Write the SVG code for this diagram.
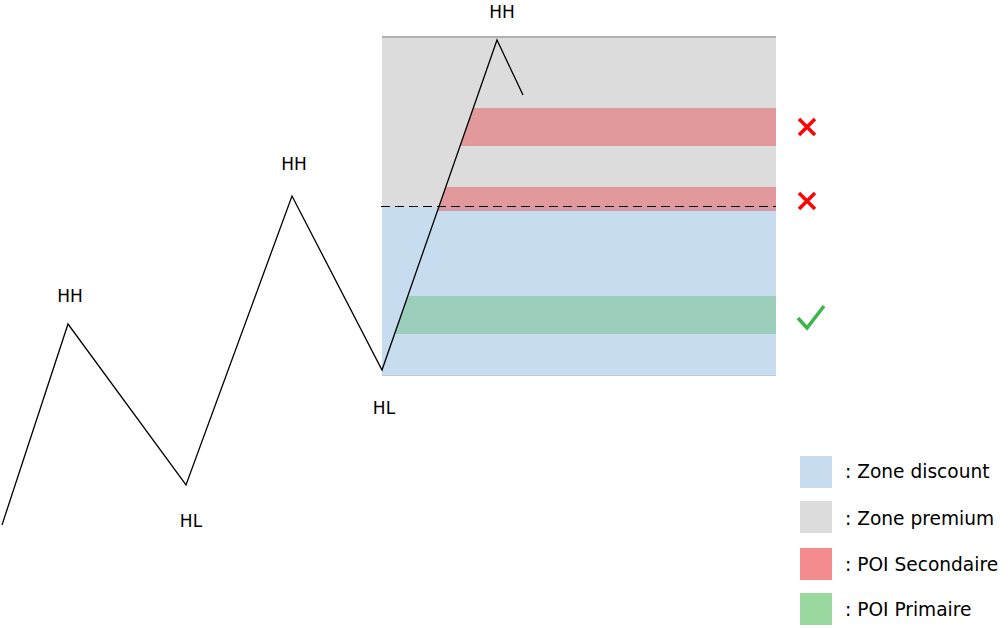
<svg xmlns="http://www.w3.org/2000/svg" width="1008" height="629" viewBox="0 0 1008 629">
<style>
text{font-family:"DejaVu Sans","Noto Sans",sans-serif;fill:#000;}
.lbl{font-size:17px;text-anchor:middle;}
.leg{font-size:18.6px;}
.poi2{fill:rgb(230,86,90);fill-opacity:0.5;}
.poi1{fill:rgb(108,192,132);fill-opacity:0.5;}
.x{stroke:#ff0000;stroke-width:3.5;fill:none;}
</style>
<rect width="1008" height="629" fill="#ffffff"/>
<g id="zone-premium">
<rect x="382" y="36" width="394" height="171" fill="#dcdcdc"/>
<line x1="382" y1="37" x2="776" y2="37" stroke="#b0b0b0" stroke-width="2"/>
</g>
<g id="zone-discount">
<rect x="382" y="207" width="394" height="169" fill="#c8dcf0"/>
<line x1="382" y1="375.5" x2="776" y2="375.5" stroke="#b4cce6" stroke-width="1"/>
</g>
<g id="poi-secondaire-1"><polygon class="poi2" points="473.6,108 776,108 776,146 460.3,146"/></g>
<g id="poi-secondaire-2"><polygon class="poi2" points="445.9,187 776,187 776,211 437.6,211"/></g>
<g id="poi-primaire"><polygon class="poi1" points="407.9,296 776,296 776,334 394.6,334"/></g>
<g id="connectors">
<line x1="381" y1="206.5" x2="776" y2="206.5" stroke="#000" stroke-width="1" stroke-dasharray="9 5"/>
<polyline points="2,525 68,324 186,485 292,196 382,370 497,40 523,95" fill="none" stroke="#000" stroke-width="1.3" stroke-linejoin="miter"/>
</g>
<g id="labels">
<text class="lbl" x="70" y="302">HH</text>
<text class="lbl" x="191" y="527">HL</text>
<text class="lbl" x="294" y="170">HH</text>
<text class="lbl" x="384" y="414">HL</text>
<text class="lbl" x="502" y="18">HH</text>
</g>
<g id="marks">
<path class="x" d="M799,119 L815,135 M815,119 L799,135"/>
<path class="x" d="M799,193 L815,209 M815,193 L799,209"/>
<path d="M798,318 L807,328 L824,306" fill="none" stroke="#3cb54a" stroke-width="3.5"/>
</g>
<g id="legend">
<rect x="800" y="456" width="32" height="32" fill="#c8dcf0"/>
<text class="leg" x="845" y="478">: Zone discount</text>
<rect x="800" y="501" width="32" height="32" fill="#dcdcdc"/>
<text class="leg" x="845" y="525">: Zone premium</text>
<rect x="800" y="548" width="32" height="32" fill="#f48c8f"/>
<text class="leg" x="845" y="571">: POI Secondaire</text>
<rect x="800" y="593" width="32" height="32" fill="#9bd8a0"/>
<text class="leg" x="845" y="616">: POI Primaire</text>
</g>
</svg>
